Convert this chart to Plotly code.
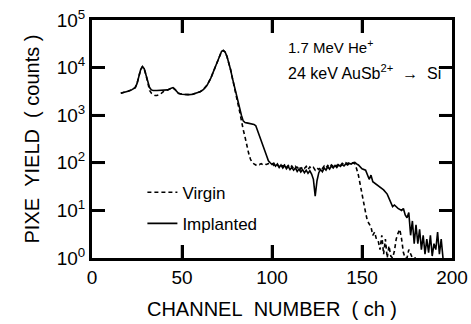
import math
import plotly.graph_objects as go

# ---------------- data ----------------
implanted_ch = [16, 18, 20, 22, 24, 25, 26, 27, 28, 29, 30, 31, 32, 33, 34, 36, 38, 40, 42, 44, 45, 46, 47, 48,
                50, 52, 54, 56, 58, 60, 62, 64, 66, 68, 70, 71, 72, 73, 74, 75, 76, 77, 78, 79, 80, 81, 82, 83,
                84, 85, 86, 87, 88, 89, 90, 91, 92, 93, 94, 95, 96, 97, 98,
                99, 100, 101, 102, 103, 104, 105, 106, 107, 108, 109, 110, 111, 112, 113, 114, 115, 116, 117,
                118, 119, 120, 121, 122, 123, 124, 125, 126, 127, 128, 129, 130, 131, 132, 133, 134, 135, 136,
                137, 138, 139, 140, 141, 142, 143, 144, 145, 146,
                147, 148, 150, 152, 154, 155, 156, 158, 160, 162, 164, 165, 166, 167, 168, 170, 172, 173, 174,
                175, 176, 177, 178, 179, 180, 181, 182, 183, 184, 185, 186, 187, 188, 189, 190, 191, 192, 193,
                194, 195]
implanted_counts = [2900, 3000, 3200, 3400, 3800, 4600, 6500, 9000, 10500, 9500, 7000, 4800, 3800, 3400, 3300,
                    3300, 3300, 3300, 3400, 3700, 3800, 3500, 3100, 2900,
                    2750, 2700, 2700, 2750, 2900, 3100, 3500, 4300, 6000, 9500, 15000, 19000, 22000, 23000, 21000,
                    17000, 13000, 9000, 6000, 4200, 2800, 1900, 1400, 1000,
                    760, 700, 690, 680, 670, 660, 640, 600, 480, 380, 300, 240, 180, 140, 110,
                    100, 92, 98, 85, 95, 80, 90, 78, 88, 75, 84, 72, 80, 70, 78, 66, 74, 64, 72,
                    62, 70, 60, 68, 58, 45, 20, 42, 62, 72, 65, 78, 70, 82, 74, 86, 78, 88, 80,
                    90, 84, 92, 86, 95, 90, 97, 94, 100, 102,
                    95, 90, 75, 70, 45, 55, 40, 35, 30, 27, 22, 18, 15, 12, 13, 11, 10, 11, 8,
                    7, 9, 3, 6, 2, 5, 2, 4, 1.5, 3, 1.2, 2.5, 1.3, 3, 1.1, 2, 1.5, 3.5, 1.2,
                    2.5, 1]

virgin_ch = [16, 18, 20, 22, 24, 25, 26, 27, 28, 29, 30, 31, 32, 33, 34, 35, 36, 37, 38, 39, 40, 42, 44, 45, 46,
             47, 48, 50, 52, 54, 56, 58, 60, 62, 64, 66, 68, 70, 71, 72, 73, 74, 75, 76, 77, 78, 79, 80,
             81, 82, 83, 84, 85, 86, 87, 88, 89, 90, 91, 92, 93, 94, 95, 96, 97, 98,
             99, 100, 101, 102, 103, 104, 105, 106, 107, 108, 109, 110, 111, 112, 113, 114, 115, 116, 117,
             118, 119, 120, 121, 122, 123, 124, 125, 126, 127, 128, 129, 130, 131, 132, 133, 134, 135, 136,
             137, 138, 139, 140, 141, 142, 143, 144,
             145, 146, 147, 148, 149, 150, 151, 152, 153, 154, 155, 156, 157, 158, 159, 160, 161, 162, 163,
             164, 165, 166, 167, 168, 169, 170, 171, 172, 173, 174, 175, 176, 178, 180]
virgin_counts = [2900, 3000, 3200, 3400, 3800, 4600, 6500, 9000, 10500, 9500, 7000, 4600, 3300, 2900, 2700,
                 2600, 2600, 2650, 2750, 3000, 3200, 3400, 3700, 3800, 3500,
                 3100, 2900, 2750, 2700, 2700, 2750, 2900, 3100, 3500, 4300, 6000, 9500, 15000, 19000, 22000,
                 23000, 21000, 17000, 13000, 9000, 6000, 4200, 2800,
                 1800, 1200, 700, 500, 350, 230, 160, 120, 100, 95, 90, 95, 92, 96, 90, 94, 92, 96, 97,
                 98, 88, 95, 90, 82, 92, 84, 90, 80, 88, 78, 86, 76, 84, 78, 86, 74, 82, 76,
                 84, 72, 82, 75, 80, 70, 78, 72, 82, 76, 86, 78, 88, 80, 90, 84, 92, 86, 95,
                 88, 98, 92, 100, 96, 102, 98, 100,
                 95, 75, 55, 35, 22, 12, 9, 6, 5, 4.5, 3, 3.5, 2.5, 2.3, 1.5, 3, 1.2, 2.5, 1.0,
                 1.8, 1.1, 1.0, 1.4, 2.5, 3.3, 4, 2.5, 1.3, 1.0, 1.0, 1.5, 1.0, 1.0, 1.0]

x_range = [0, 200]
y_log_range = [0, 5]
x_ticks = [0, 50, 100, 150, 200]
x_tick_labels = ["0", "50", "100", "150", "200"]
y_ticks = [1, 10, 100, 1000, 10000, 100000]
y_tick_labels = ["10<sup>0</sup>", "10<sup>1</sup>", "10<sup>2</sup>",
                 "10<sup>3</sup>", "10<sup>4</sup>", "10<sup>5</sup>"]

FONT = "Liberation Sans, Arial, Helvetica, sans-serif"
NB = "\u00a0"
TICK_LEN = 13
PLOT_W = 360.0   # plot-area width in px (471 - 92 - 19)
PLOT_H = 238.0   # plot-area height in px (324 - 20 - 66)

fig = go.Figure()
fig.add_trace(go.Scatter(x=virgin_ch, y=virgin_counts, mode="lines", name="Virgin",
                         legendgroup="v",
                         line=dict(color="black", width=1.6, dash="4px,3px")))
fig.add_trace(go.Scatter(x=implanted_ch, y=implanted_counts, mode="lines", name="Implanted",
                         legendgroup="i",
                         line=dict(color="black", width=1.6)))

# inward tick marks on all four sides, placed as fractions of the plot area from the tick lists
tick_line = dict(color="black", width=2.5)
fx = TICK_LEN / PLOT_W
fy = TICK_LEN / PLOT_H
for xv in x_ticks[1:-1]:
    px = (xv - x_range[0]) / (x_range[1] - x_range[0])
    fig.add_shape(type="line", xref="paper", yref="paper", x0=px, x1=px, y0=0, y1=fy,
                  line=tick_line, layer="above")
    fig.add_shape(type="line", xref="paper", yref="paper", x0=px, x1=px, y0=1, y1=1 - fy,
                  line=tick_line, layer="above")
for yv in y_ticks[1:-1]:
    py = (math.log10(yv) - y_log_range[0]) / (y_log_range[1] - y_log_range[0])
    fig.add_shape(type="line", xref="paper", yref="paper", x0=0, x1=fx, y0=py, y1=py,
                  line=tick_line, layer="above")
    fig.add_shape(type="line", xref="paper", yref="paper", x0=1, x1=1 - fx, y0=py, y1=py,
                  line=tick_line, layer="above")

axis_common = dict(showline=True, linewidth=3, linecolor="black", mirror="ticks",
                   ticks="inside", ticklen=TICK_LEN, tickwidth=2.5, tickcolor="black",
                   showgrid=False, zeroline=False, automargin=False,
                   tickfont=dict(family=FONT, size=19, color="black"))

fig.update_xaxes(range=x_range, tickmode="array", tickvals=x_ticks, ticktext=x_tick_labels,
                 title=dict(text="CHANNEL" + NB * 2 + "NUMBER" + NB * 2 + "(" + NB + "ch" + NB + ")",
                            font=dict(family=FONT, size=20, color="black"), standoff=16),
                 **axis_common)
fig.update_yaxes(type="log", range=y_log_range, tickmode="array", tickvals=y_ticks, ticktext=y_tick_labels,
                 title=dict(text="PIXE" + NB * 2 + "YIELD" + NB * 2 + "(" + NB + "counts" + NB + ")",
                            font=dict(family=FONT, size=20, color="black"), standoff=12),
                 **axis_common)

fig.add_annotation(x=0.54, y=0.89, xref="paper", yref="paper", xanchor="left", yanchor="middle",
                   text="1.7 MeV He<sup>+</sup>", showarrow=False,
                   font=dict(family=FONT, size=15, color="black"))
fig.add_annotation(x=0.54, y=0.78, xref="paper", yref="paper", xanchor="left", yanchor="middle",
                   text="24 keV AuSb<sup>2+</sup>" + NB * 2 + "\u2192" + NB * 2 + "Si", showarrow=False,
                   font=dict(family=FONT, size=16, color="black"))

fig.update_layout(
    template="none",
    width=471, height=324,
    margin=dict(l=92, r=19, t=20, b=66),
    paper_bgcolor="white", plot_bgcolor="white",
    showlegend=True,
    legend=dict(x=0.14, y=0.35, xanchor="left", yanchor="top",
                bgcolor="rgba(0,0,0,0)", traceorder="grouped", tracegroupgap=6,
                font=dict(family=FONT, size=17, color="black")),
)

fig.write_html("out.html")
